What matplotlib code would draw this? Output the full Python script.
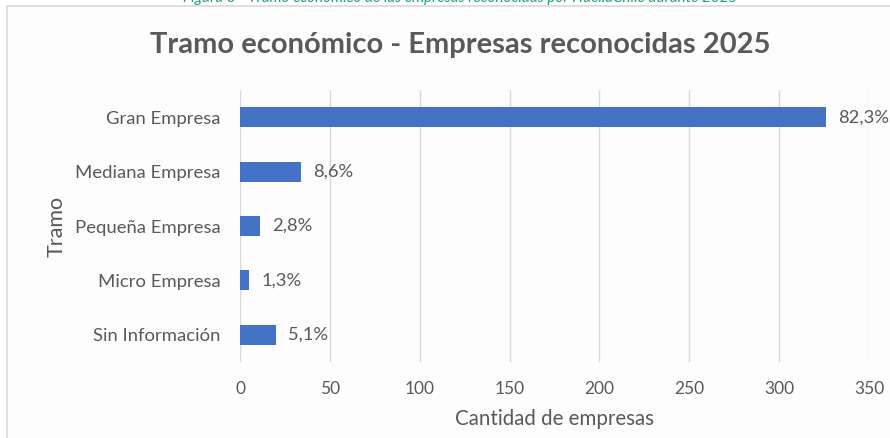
import matplotlib.pyplot as plt
from matplotlib.patches import Rectangle

# Data
categories = ["Gran Empresa", "Mediana Empresa", "Pequeña Empresa", "Micro Empresa", "Sin Información"]
counts = [326, 34, 11, 5, 20]
pct_labels = ["82,3%", "8,6%", "2,8%", "1,3%", "5,1%"]
x_ticks = [0, 50, 100, 150, 200, 250, 300, 350]

plt.rcParams['font.family'] = ['Lato', 'DejaVu Sans']
gray = "#595959"

fig = plt.figure(figsize=(8.9, 4.38), dpi=100)

# chart frame (behind everything)
frame = Rectangle((7 / 890, -0.05), 1.1, 1 - 6 / 438 + 0.05,
                  transform=fig.transFigure, facecolor="#fdfdfd",
                  edgecolor="#d9d9d9", linewidth=1.2, zorder=-10)
fig.add_artist(frame)

# caption cut off at the very top, as in the source
fig.text(0.517, 1 - 2 / 438, "Figura 8 - Tramo económico de las empresas reconocidas por HuellaChile durante 2025",
         ha="center", va="baseline", fontsize=11, style="italic", color="#22a06b")

ax = fig.add_axes([240 / 890, 1 - 362 / 438, 629 / 890, 272 / 438])
ax.set_facecolor("none")
ax.set_zorder(2)

y = list(range(len(categories)))
ax.barh(y, counts, height=0.37, color="#4472C4", zorder=3)
ax.set_ylim(len(categories) - 0.5, -0.5)
ax.set_xlim(0, 350)
ax.set_xticks(x_ticks)
ax.set_yticks(y)
ax.set_yticklabels(categories, fontsize=13.3, color=gray)
ax.tick_params(axis="x", labelsize=12.5, labelcolor=gray, length=0, pad=14)
ax.tick_params(axis="y", length=0, pad=14)
ax.grid(axis="x", color="#d9d9d9", linewidth=1, zorder=0)
for s in ax.spines.values():
    s.set_visible(False)

for yi, c, lab in zip(y, counts, pct_labels):
    ax.annotate(lab, (c, yi), xytext=(9, 0), textcoords="offset points",
                va="center", ha="left", fontsize=13.2, color=gray)

ax.set_xlabel("Cantidad de empresas", fontsize=14.8, color=gray, labelpad=8)
fig.text(57 / 890, 1 - 226 / 438, "Tramo", rotation=90, ha="center", va="center",
         fontsize=15.5, color=gray)

fig.text(0.517, 1 - 45 / 438, "Tramo económico - Empresas reconocidas 2025",
         ha="center", va="center", fontsize=21, fontweight="bold", color=gray)

fig.savefig("out.png", dpi=100)
